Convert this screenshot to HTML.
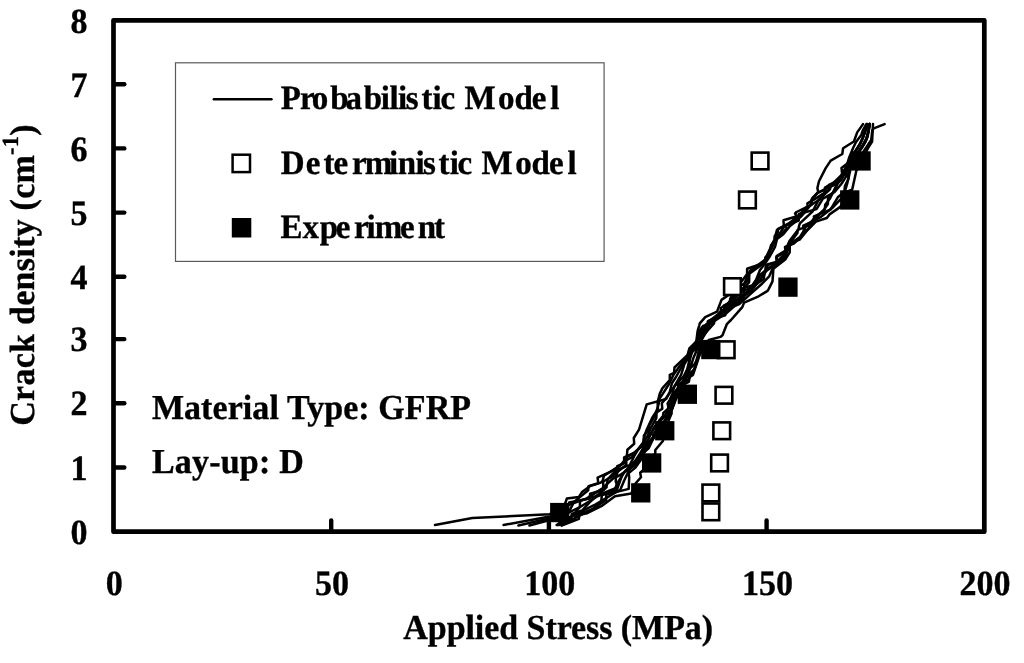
<!DOCTYPE html>
<html lang="en"><head><meta charset="utf-8"><title>Crack density vs Applied Stress</title>
<style>html,body{margin:0;padding:0;background:#fff;}body{width:1024px;height:663px;overflow:hidden;}svg{display:block;}text{font-family:"Liberation Serif","Times New Roman",serif;font-weight:bold;fill:#000;text-rendering:geometricPrecision;}</style></head><body>
<svg width="1024" height="663" viewBox="0 0 1024 663">
<rect x="0" y="0" width="1024" height="663" fill="#fff"/>
<path d="M435.0 525.0 L472.3 518.1 L549.7 514.2 L569.1 504.9 L586.8 498.4 L603.3 487.9 L603.2 481.5 L611.5 476.8 L626.4 464.8 L625.9 460.4 L632.1 457.1 L638.4 449.2 L643.6 442.2 L643.9 435.6 L648.1 430.4 L649.5 424.9 L655.2 415.4 L658.8 403.5 L658.9 399.5 L662.9 393.6 L669.2 383.8 L673.5 374.8 L680.1 365.6 L687.0 357.5 L696.0 346.3 L699.2 339.1 L705.4 328.5 L705.7 324.8 L713.2 319.6 L722.1 312.9 L725.8 306.6 L730.9 299.6 L744.6 289.5 L744.1 285.6 L745.1 281.7 L749.8 271.1 L766.0 259.1 L770.5 249.2 L771.0 245.3 L775.2 239.9 L774.6 236.3 L777.4 234.1 L778.1 228.9 L788.2 224.1 L799.5 214.8 L807.6 206.1 L807.4 203.4 L815.1 198.9 L830.0 189.2 L830.8 185.3 L837.6 181.9 L842.2 174.5 L841.5 167.9 L849.3 162.0 L855.3 152.0 L859.8 144.1 L863.1 137.3 L865.8 129.3 L867.2 124.1" fill="none" stroke="#000" stroke-width="2.5" stroke-linejoin="round" stroke-linecap="round"/>
<path d="M503.6 525.0 L549.7 516.6 L569.1 511.7 L573.8 502.1 L588.2 490.2 L588.5 486.1 L598.3 483.2 L597.6 477.6 L612.4 470.9 L624.2 462.8 L624.1 457.4 L634.2 452.8 L641.1 446.6 L647.4 436.4 L650.6 428.3 L656.3 418.1 L656.6 412.5 L662.3 408.8 L661.8 403.2 L665.0 399.4 L670.0 392.8 L675.8 384.8 L684.0 375.8 L689.7 364.2 L689.4 362.3 L690.0 358.7 L690.4 353.4 L698.1 347.0 L697.6 342.0 L701.3 335.9 L709.3 325.2 L720.8 313.5 L720.9 308.0 L730.3 301.8 L730.9 297.0 L737.2 293.8 L736.6 288.8 L746.8 281.8 L747.0 276.6 L751.7 270.0 L761.4 264.4 L768.4 255.7 L770.5 248.5 L775.9 239.1 L783.9 227.1 L783.5 220.3 L800.4 215.3 L805.2 208.8 L817.7 200.7 L828.9 190.4 L829.0 185.0 L840.1 180.3 L846.2 170.1 L846.9 166.2 L849.8 161.4 L854.3 152.8 L861.8 140.7 L866.1 128.7 L867.2 124.1" fill="none" stroke="#000" stroke-width="2.5" stroke-linejoin="round" stroke-linecap="round"/>
<path d="M518.4 525.5 L549.7 518.2 L571.4 517.0 L571.7 513.9 L582.1 510.5 L589.6 502.3 L595.9 496.5 L606.5 487.3 L607.0 483.6 L607.8 479.2 L617.0 469.4 L617.2 466.2 L626.1 462.4 L625.9 457.7 L635.4 452.2 L644.6 443.1 L644.1 439.1 L650.2 434.8 L656.3 424.9 L664.7 416.3 L669.9 405.0 L674.1 392.9 L682.9 381.3 L687.0 370.6 L689.2 360.8 L692.3 351.6 L692.9 346.3 L698.1 339.5 L701.6 331.3 L711.8 319.2 L724.3 309.1 L723.7 305.6 L730.3 302.6 L730.1 298.9 L736.9 296.0 L736.4 290.3 L752.2 285.4 L760.6 274.7 L776.8 263.6 L776.2 257.2 L784.5 252.2 L789.5 241.1 L798.6 228.9 L798.9 226.5 L799.9 223.3 L812.7 211.3 L817.8 201.4 L824.3 194.0 L825.0 187.5 L833.9 182.4 L843.0 173.7 L851.2 161.5 L851.3 156.8 L857.8 152.9 L864.2 143.5 L867.4 137.5 L868.6 131.8 L869.6 124.1" fill="none" stroke="#000" stroke-width="2.5" stroke-linejoin="round" stroke-linecap="round"/>
<path d="M529.4 525.5 L549.7 520.0 L569.9 519.2 L579.9 506.8 L580.0 500.8 L595.7 496.2 L616.2 488.0 L616.8 483.9 L615.8 481.7 L615.8 477.5 L620.7 474.6 L633.6 466.3 L640.9 457.8 L647.7 446.6 L654.4 437.0 L654.0 433.6 L658.0 428.2 L668.4 416.5 L668.2 406.0 L667.6 403.6 L669.9 399.5 L672.7 393.3 L673.9 387.2 L681.1 374.8 L684.3 364.3 L690.3 354.6 L690.2 349.4 L696.2 346.0 L700.2 336.0 L700.0 331.4 L707.1 326.5 L717.8 316.5 L728.4 308.7 L736.2 300.9 L750.5 291.7 L760.1 279.7 L767.9 268.5 L786.0 256.9 L787.0 249.0 L790.0 243.0 L797.4 233.1 L797.8 229.8 L808.8 225.6 L814.2 217.9 L824.8 209.6 L825.2 204.8 L830.0 198.5 L835.0 188.2 L841.8 176.2 L845.5 170.6 L846.3 166.0 L852.3 160.3 L859.2 151.0 L865.5 141.8 L868.6 130.6 L869.6 124.1" fill="none" stroke="#000" stroke-width="2.5" stroke-linejoin="round" stroke-linecap="round"/>
<path d="M556.7 525.0 L569.9 520.7 L593.6 508.5 L601.2 501.4 L601.9 495.0 L620.1 490.2 L624.3 480.2 L629.9 468.6 L635.3 460.9 L640.7 452.5 L644.6 445.2 L648.6 439.0 L653.7 427.7 L663.1 415.7 L663.4 412.9 L668.1 408.8 L672.2 399.5 L678.3 387.0 L677.8 384.4 L685.1 381.2 L685.6 377.7 L688.5 375.1 L694.3 369.1 L696.8 359.2 L699.3 348.7 L701.5 338.3 L708.1 327.0 L708.8 321.0 L719.5 316.3 L719.6 312.1 L729.3 307.4 L740.9 296.2 L754.3 286.8 L759.9 275.4 L767.6 268.4 L767.2 264.5 L777.3 261.7 L776.6 256.1 L785.5 250.6 L785.0 247.0 L793.8 243.5 L800.3 237.5 L805.1 229.2 L804.9 225.3 L814.2 220.2 L823.4 210.4 L827.9 204.0 L828.0 197.9 L833.5 192.1 L836.6 186.4 L837.1 183.1 L840.7 180.6 L846.7 170.3 L849.6 164.0 L849.3 158.0 L854.2 152.8 L860.1 144.2 L865.1 132.0 L867.2 124.1" fill="none" stroke="#000" stroke-width="2.5" stroke-linejoin="round" stroke-linecap="round"/>
<path d="M559.0 525.0 L572.0 516.0 L595.7 504.4 L615.9 492.2 L618.9 484.3 L622.7 473.6 L630.9 465.6 L638.6 457.4 L646.8 445.5 L654.0 435.7 L658.7 426.5 L659.2 420.8 L669.4 414.0 L674.6 402.4 L678.0 391.7 L685.8 382.7 L693.6 371.4 L697.9 359.2 L700.0 348.8 L699.3 345.0 L700.8 341.2 L707.3 330.2 L706.6 326.2 L714.9 320.7 L726.8 312.9 L737.6 303.3 L743.1 297.3 L743.8 291.0 L755.3 285.0 L763.7 278.9 L765.3 270.0 L765.9 265.5 L776.7 262.1 L782.9 255.7 L791.3 243.3 L801.5 235.9 L811.5 225.6 L811.8 221.7 L821.0 216.8 L833.1 207.2 L843.8 195.8 L845.0 185.7 L848.5 178.8 L848.1 173.8 L850.2 167.7 L855.5 156.4 L862.5 147.0 L866.5 139.3 L868.4 130.4 L869.6 124.1" fill="none" stroke="#000" stroke-width="2.5" stroke-linejoin="round" stroke-linecap="round"/>
<path d="M557.5 525.0 L566.0 514.0 L580.5 506.8 L596.7 496.7 L614.4 490.2 L617.5 483.0 L625.1 471.1 L634.3 464.3 L641.9 453.7 L646.5 447.6 L646.4 445.0 L650.5 441.0 L655.6 433.9 L660.4 426.4 L670.3 415.0 L670.4 409.9 L671.6 404.4 L677.8 393.4 L684.9 381.0 L689.6 369.9 L693.3 358.3 L696.8 350.1 L699.0 341.2 L704.5 330.9 L708.0 325.3 L707.8 321.4 L718.0 316.0 L728.7 305.8 L739.2 293.9 L749.1 282.1 L749.3 273.8 L765.9 261.4 L765.3 257.4 L767.5 255.3 L772.4 247.1 L774.9 240.5 L786.6 228.5 L786.0 225.5 L798.7 220.7 L798.9 214.0 L816.5 209.1 L822.9 198.6 L834.6 192.0 L841.7 183.5 L846.0 176.7 L845.9 172.4 L849.7 169.5 L857.4 158.3 L863.1 152.3 L871.2 140.0 L872.3 130.4 L873.8 128.3 L884.6 124.1" fill="none" stroke="#000" stroke-width="2.5" stroke-linejoin="round" stroke-linecap="round"/>
<path d="M561.4 525.0 L575.0 519.5 L575.6 515.0 L591.1 510.0 L606.1 500.0 L606.4 494.6 L628.7 488.9 L629.2 477.7 L628.7 473.1 L635.1 467.9 L642.4 457.7 L642.0 454.0 L648.6 448.4 L653.5 437.9 L653.1 434.9 L656.2 432.0 L655.4 428.9 L662.7 425.7 L666.5 418.4 L672.1 408.4 L673.8 401.0 L675.5 393.7 L683.1 384.9 L683.8 379.9 L689.3 373.2 L688.6 369.5 L694.7 364.0 L700.3 353.1 L700.6 349.3 L701.7 345.1 L700.9 340.8 L703.3 335.5 L714.0 323.5 L714.6 318.4 L725.3 315.3 L725.5 309.6 L739.3 304.2 L751.7 292.8 L762.0 283.7 L769.2 276.3 L773.6 266.4 L785.0 256.3 L790.5 244.1 L799.8 237.5 L803.9 230.7 L803.2 225.6 L814.6 221.1 L813.9 216.3 L830.5 209.7 L837.8 197.3 L844.9 191.5 L847.4 182.8 L849.6 173.2 L852.2 163.3 L856.6 155.0 L862.3 146.0 L866.8 137.4 L868.7 130.5 L869.6 124.1" fill="none" stroke="#000" stroke-width="2.5" stroke-linejoin="round" stroke-linecap="round"/>
<path d="M560.0 521.0 L565.4 502.6 L566.9 498.5 L578.9 497.0 L582.0 492.1 L590.2 486.0 L600.8 482.6 L602.5 481.0 L604.0 475.7 L620.6 465.2 L626.7 457.6 L627.4 449.7 L634.2 443.7 L633.8 438.0 L639.0 429.7 L646.7 404.4 L666.2 399.0 L669.8 391.8 L672.0 383.0 L676.0 377.0 L681.0 368.0 L687.7 354.8 L689.3 348.5 L696.2 342.2 L697.7 330.6 L699.3 325.3 L699.8 323.4 L705.2 317.1 L717.0 311.7 L721.5 299.9 L733.0 292.0 L742.0 281.0 L747.1 274.1 L747.1 268.7 L763.4 263.3 L769.0 251.0 L774.3 239.7 L777.0 229.8 L788.8 223.4 L797.8 218.0 L795.1 213.5 L796.6 212.0 L811.6 204.6 L811.6 199.6 L818.2 192.1 L817.4 188.0 L819.0 181.3 L825.7 168.1 L830.7 160.6 L842.3 154.0 L843.1 148.2 L853.9 141.5 L857.2 132.4 L863.0 124.1" fill="none" stroke="#000" stroke-width="2.5" stroke-linejoin="round" stroke-linecap="round"/>
<path d="M569.1 502.6 L589.5 498.5 L590.2 493.6 L603.8 489.8 L605.3 485.7 L611.4 480.0 L616.9 475.0 L617.6 469.7 L629.7 465.2 L634.2 456.1 L638.0 449.3 L643.3 442.5 L644.8 435.0 L646.3 430.6 L652.6 417.1 L658.0 408.9 L657.6 402.6 L659.8 393.6 L662.5 388.1 L669.8 380.0 L669.8 374.9 L674.0 372.8 L674.5 367.5 L687.7 354.8 L691.0 347.0 L698.0 339.7 L698.0 332.5 L703.0 326.0 L705.7 325.3 L712.0 320.0 L722.4 312.6 L730.0 306.0 L740.5 301.7 L745.0 295.0 L751.4 287.2 L756.0 280.0 L760.0 270.0 L765.2 263.3 L770.0 256.0 L775.0 247.0 L777.0 239.0 L783.3 234.3 L790.0 226.0 L795.1 222.0 L801.4 216.2 L810.5 205.3 L812.3 198.1 L817.4 193.0 L838.1 183.0 L840.0 178.0 L843.0 172.0 L846.4 166.4 L849.0 158.0 L853.0 148.2 L856.0 142.0 L861.3 134.9 L863.0 130.0 L866.3 124.1" fill="none" stroke="#000" stroke-width="2.5" stroke-linejoin="round" stroke-linecap="round"/>
<path d="M561.6 525.6 L578.9 518.8 L579.3 514.7 L587.2 513.2 L602.3 505.6 L615.0 496.2 L631.3 493.4 L635.7 483.3 L641.0 477.2 L640.2 472.7 L651.4 462.9 L655.3 453.0 L655.3 450.0 L662.9 441.0 L664.4 430.9 L668.9 419.8 L671.6 413.5 L671.6 410.7 L675.2 400.8 L677.9 395.4 L682.4 385.0 L688.8 381.8 L689.8 377.0 L693.0 374.9 L700.4 352.7 L708.8 340.0 L720.4 336.9 L722.5 335.3 L726.8 324.2 L731.0 320.0 L742.3 307.1 L744.1 302.6 L758.6 296.3 L767.6 290.9 L768.9 288.6 L772.5 281.4 L773.4 268.7 L785.2 259.6 L789.7 252.4 L789.7 243.3 L799.6 239.7 L806.9 230.7 L815.9 221.6 L826.8 218.0 L829.5 214.4 L840.0 207.1 L845.0 200.0 L846.0 192.0 L852.2 189.6 L856.4 170.6 L862.0 160.0 L868.0 148.2 L872.1 141.5 L873.0 124.1" fill="none" stroke="#000" stroke-width="2.5" stroke-linejoin="round" stroke-linecap="round"/>
<rect x="702.5" y="503.5" width="16.7" height="16.7" fill="#fff" stroke="#000" stroke-width="2.6"/>
<rect x="702.5" y="484.6" width="16.7" height="16.7" fill="#fff" stroke="#000" stroke-width="2.6"/>
<rect x="711.2" y="454.6" width="16.7" height="16.7" fill="#fff" stroke="#000" stroke-width="2.6"/>
<rect x="713.4" y="422.4" width="16.7" height="16.7" fill="#fff" stroke="#000" stroke-width="2.6"/>
<rect x="715.6" y="386.9" width="16.7" height="16.7" fill="#fff" stroke="#000" stroke-width="2.6"/>
<rect x="717.8" y="341.4" width="16.7" height="16.7" fill="#fff" stroke="#000" stroke-width="2.6"/>
<rect x="724.1" y="278.3" width="16.7" height="16.7" fill="#fff" stroke="#000" stroke-width="2.6"/>
<rect x="739.1" y="191.6" width="16.7" height="16.7" fill="#fff" stroke="#000" stroke-width="2.6"/>
<rect x="751.7" y="152.6" width="16.7" height="16.7" fill="#fff" stroke="#000" stroke-width="2.6"/>
<rect x="550.1" y="502.9" width="19.3" height="19.3" fill="#000"/>
<rect x="631.1" y="483.2" width="19.3" height="19.3" fill="#000"/>
<rect x="642.0" y="453.3" width="19.3" height="19.3" fill="#000"/>
<rect x="655.1" y="421.1" width="19.3" height="19.3" fill="#000"/>
<rect x="677.7" y="384.6" width="19.3" height="19.3" fill="#000"/>
<rect x="701.2" y="339.9" width="19.3" height="19.3" fill="#000"/>
<rect x="778.3" y="277.5" width="19.3" height="19.3" fill="#000"/>
<rect x="840.1" y="190.3" width="19.3" height="19.3" fill="#000"/>
<rect x="851.4" y="151.3" width="19.3" height="19.3" fill="#000"/>
<rect x="113.5" y="20.35" width="870.80" height="511.35" fill="none" stroke="#000" stroke-width="4.7" stroke-linejoin="round"/>
<line x1="115.5" y1="467.50" x2="124.3" y2="467.50" stroke="#000" stroke-width="4.4" stroke-linecap="round"/>
<line x1="115.5" y1="403.20" x2="124.3" y2="403.20" stroke="#000" stroke-width="4.4" stroke-linecap="round"/>
<line x1="115.5" y1="339.10" x2="124.3" y2="339.10" stroke="#000" stroke-width="4.4" stroke-linecap="round"/>
<line x1="115.5" y1="276.80" x2="124.3" y2="276.80" stroke="#000" stroke-width="4.4" stroke-linecap="round"/>
<line x1="115.5" y1="212.60" x2="124.3" y2="212.60" stroke="#000" stroke-width="4.4" stroke-linecap="round"/>
<line x1="115.5" y1="148.40" x2="124.3" y2="148.40" stroke="#000" stroke-width="4.4" stroke-linecap="round"/>
<line x1="115.5" y1="84.30" x2="124.3" y2="84.30" stroke="#000" stroke-width="4.4" stroke-linecap="round"/>
<line x1="331.20" y1="529.7" x2="331.20" y2="520.5" stroke="#000" stroke-width="4.4" stroke-linecap="round"/>
<line x1="548.90" y1="529.7" x2="548.90" y2="520.5" stroke="#000" stroke-width="4.4" stroke-linecap="round"/>
<line x1="766.60" y1="529.7" x2="766.60" y2="520.5" stroke="#000" stroke-width="4.4" stroke-linecap="round"/>
<text transform="translate(87.6 543.9) scale(1 1.045)" font-size="34" text-anchor="end" stroke="#000" stroke-width="0.35">0</text>
<text transform="translate(87.6 479.7) scale(1 1.045)" font-size="34" text-anchor="end" stroke="#000" stroke-width="0.35">1</text>
<text transform="translate(87.6 415.4) scale(1 1.045)" font-size="34" text-anchor="end" stroke="#000" stroke-width="0.35">2</text>
<text transform="translate(87.6 351.3) scale(1 1.045)" font-size="34" text-anchor="end" stroke="#000" stroke-width="0.35">3</text>
<text transform="translate(87.6 289.0) scale(1 1.045)" font-size="34" text-anchor="end" stroke="#000" stroke-width="0.35">4</text>
<text transform="translate(87.6 224.8) scale(1 1.045)" font-size="34" text-anchor="end" stroke="#000" stroke-width="0.35">5</text>
<text transform="translate(87.6 160.6) scale(1 1.045)" font-size="34" text-anchor="end" stroke="#000" stroke-width="0.35">6</text>
<text transform="translate(87.6 96.5) scale(1 1.045)" font-size="34" text-anchor="end" stroke="#000" stroke-width="0.35">7</text>
<text transform="translate(87.6 32.5) scale(1 1.045)" font-size="34" text-anchor="end" stroke="#000" stroke-width="0.35">8</text>
<text transform="translate(114.3 595.2) scale(1 1.045)" font-size="34" text-anchor="middle" stroke="#000" stroke-width="0.35">0</text>
<text transform="translate(332.0 595.2) scale(1 1.045)" font-size="34" text-anchor="middle" stroke="#000" stroke-width="0.35">50</text>
<text transform="translate(549.7 595.2) scale(1 1.045)" font-size="34" text-anchor="middle" stroke="#000" stroke-width="0.35">100</text>
<text transform="translate(767.4 595.2) scale(1 1.045)" font-size="34" text-anchor="middle" stroke="#000" stroke-width="0.35">150</text>
<text transform="translate(985.1 595.2) scale(1 1.045)" font-size="34" text-anchor="middle" stroke="#000" stroke-width="0.35">200</text>
<text transform="translate(403.3 639.0) scale(1 1.03)" font-size="34" text-anchor="start" textLength="309.8" lengthAdjust="spacing" stroke="#000" stroke-width="0.35">Applied Stress (MPa)</text>
<text transform="translate(33.6 425.8) rotate(-90) scale(1 1.03)" font-size="34" text-anchor="start" textLength="301.5" lengthAdjust="spacing" stroke="#000" stroke-width="0.35">Crack density (cm<tspan font-size="22.5" dy="-15.5">-1</tspan><tspan dy="15.5">)</tspan></text>
<text transform="translate(151.9 418.7) scale(1 1.03)" font-size="34" text-anchor="start" textLength="319.2" lengthAdjust="spacing" stroke="#000" stroke-width="0.35">Material Type: GFRP</text>
<text transform="translate(151.9 472.5) scale(1 1.03)" font-size="34" text-anchor="start" textLength="151.8" lengthAdjust="spacing" stroke="#000" stroke-width="0.35">Lay-up: D</text>
<rect x="175.5" y="62.8" width="428.6" height="198.6" fill="#fff" stroke="#5a5a5a" stroke-width="1.2"/>
<line x1="213.8" y1="99.2" x2="271.5" y2="99.2" stroke="#000" stroke-width="2.4" stroke-linecap="round"/>
<rect x="232.6" y="154.7" width="17.4" height="17.4" fill="#fff" stroke="#000" stroke-width="2.5"/>
<rect x="231.8" y="218" width="19.5" height="19.5" fill="#000"/>
<text transform="translate(0 109.4) scale(1 1.03)" x="280.8 300.1 311.8 330.2 345.6 363.7 380.7 389.5 398.0 405.7 421.4 432.6 440.4 461.6 464.4 498.0 514.4 531.8 550.2" y="0" font-size="33" stroke="#000" stroke-width="0.35">Probabilistic Model</text>
<text transform="translate(0 173.5) scale(1 1.03)" x="280.8 305.7 323.5 333.5 352.1 364.7 388.9 397.8 415.4 422.9 438.6 449.8 457.6 478.8 481.6 515.2 531.6 549.0 567.4" y="0" font-size="33" stroke="#000" stroke-width="0.35">Deterministic Model</text>
<text transform="translate(0 237.8) scale(1 1.03)" x="280.6 302.5 319.8 335.7 353.9 366.5 374.8 399.9 417.8 433.9" y="0" font-size="33" stroke="#000" stroke-width="0.35">Experiment</text>
</svg></body></html>
